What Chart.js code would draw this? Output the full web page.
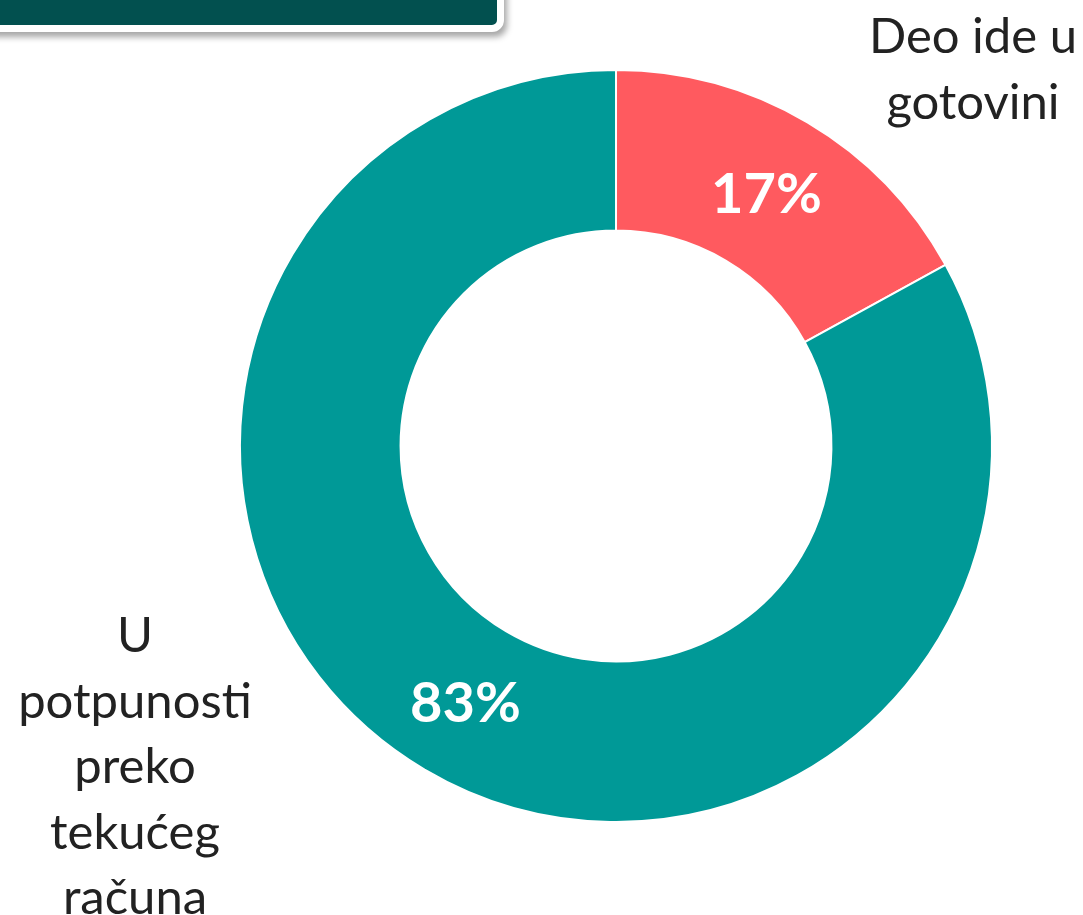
<!DOCTYPE html>
<html>
<head>
<meta charset="utf-8">
<script src="https://cdn.jsdelivr.net/npm/chart.js@4"></script>
<style>
  html, body { margin: 0; padding: 0; background: #fff; overflow: hidden; }
  #wrap { position: relative; width: 1083px; height: 915px; }
  #header {
    position: absolute; left: -20px; top: -60px; width: 510px; height: 78px;
    background: #02504f; border: 7px solid #fff; border-radius: 12px;
    box-shadow: 3px 5px 6px rgba(0,0,0,0.35);
    color: #fff; font-family: Lato, sans-serif; font-weight: bold; font-size: 48px;
    text-align: center; line-height: 74px; overflow: hidden;
  }
  #header span { position: relative; top: -3px; letter-spacing: 4px; }
</style>
</head>
<body>
<div id="wrap">
  <canvas id="myChart" width="1083" height="915"></canvas>
  <div id="header"><span>U PRIVREDNIKA</span></div>
</div>
<script>
// categories (multi-line labels) and values
var categories = [
  ['Deo ide u', 'gotovini'],
  ['U', 'potpunosti', 'preko', 'tekućeg', 'računa']
];
var values = [17, 83];
var colors = ['#FF5A5F', '#009997'];

// where each category's text sits (centre x, first baseline y)
var labelSpots = [
  {x: 973, y: 53},
  {x: 135, y: 652}
];

const labelPlugin = {
  id: 'labelPlugin',
  afterDatasetsDraw(chart) {
    const ctx = chart.ctx;
    const meta = chart.getDatasetMeta(0);
    ctx.save();
    ctx.textAlign = 'center';
    ctx.textBaseline = 'middle';
    ctx.fillStyle = '#fff';
    ctx.font = 'bold 56px Lato, sans-serif';
    meta.data.forEach(function (arc, i) {
      var p = arc.tooltipPosition();
      ctx.fillText(values[i] + '%', p.x, p.y + 3);
    });
    ctx.fillStyle = '#222';
    ctx.font = '49px Lato, sans-serif';
    ctx.textBaseline = 'alphabetic';
    categories.forEach(function (lines, i) {
      lines.forEach(function (line, j) {
        ctx.fillText(line, labelSpots[i].x, labelSpots[i].y + j * 65.5);
      });
    });
    ctx.restore();
  }
};

const data = {
  labels: categories.map(function (l) { return l.join(' '); }),
  datasets: [{
    data: values,
    backgroundColor: colors,
    borderColor: '#fff',
    borderWidth: 2
  }]
};

const config = {
  type: 'doughnut',
  data: data,
  options: {
    responsive: false,
    animation: false,
    cutout: '57.3%',
    layout: { padding: { left: 239, right: 90, top: 69, bottom: 92 } },
    plugins: {
      legend: { display: false },
      tooltip: { enabled: false }
    }
  },
  plugins: [labelPlugin]
};

var myChart = new Chart(document.getElementById('myChart'), config);
</script>
</body>
</html>
